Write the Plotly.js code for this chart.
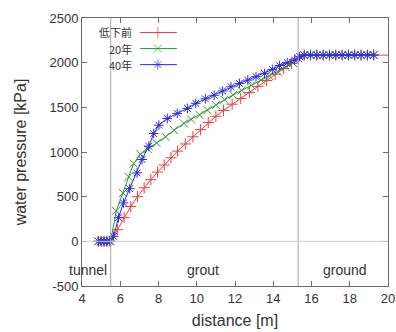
<!DOCTYPE html>
<html>
<head>
<meta charset="utf-8">
<script src="https://cdn.plot.ly/plotly-3.0.1.min.js"></script>
<style>html,body{margin:0;padding:0;background:#fff;}#chart{width:396px;height:332px;}</style>
</head>
<body>
<div id="chart"></div>
<script>
// ---- data ----
const seriesNames = ["低下前", "20年", "40年"];

const redX = [4.85, 5.0, 5.15, 5.3, 5.5, 5.85, 6.2, 6.55, 6.9, 7.25, 7.6, 7.95, 8.3, 8.65, 9.0, 9.4, 9.8, 10.2, 10.6, 11.0, 11.4, 11.85, 12.3, 12.75, 13.2, 13.65, 14.1, 14.55, 14.95, 15.3,
              15.62, 15.95, 16.28, 16.61, 16.94, 17.27, 17.6, 17.93, 18.26, 18.59, 18.92, 19.25, 20.5];
const redY = [0, 0, 0, 0, 0, 130, 265, 390, 500, 600, 690, 775, 855, 935, 1010, 1090, 1170, 1250, 1330, 1400, 1465, 1535, 1600, 1665, 1735, 1800, 1870, 1935, 1990, 2045,
              2085, 2085, 2085, 2085, 2085, 2085, 2085, 2085, 2085, 2085, 2085, 2085, 2085];

const greenX = [4.85, 5.0, 5.15, 5.3, 5.5, 5.79, 6.14, 6.44, 6.7, 7.05, 7.45, 7.9, 8.37, 8.81, 9.33, 9.7, 10.15, 10.56, 11.0, 11.45, 11.9, 12.35, 12.85, 13.37, 13.8, 14.25, 14.65, 15.04, 15.3,
                15.62, 15.95, 16.28, 16.61, 16.94, 17.27, 17.6, 17.93, 18.26, 18.59, 18.92, 19.25];
const greenY = [0, 0, 0, 0, 0, 340, 541, 721, 871, 975, 1030, 1100, 1170, 1244, 1320, 1365, 1415, 1469, 1525, 1585, 1640, 1690, 1745, 1805, 1850, 1898, 1950, 1995, 2050,
                2085, 2085, 2085, 2085, 2085, 2085, 2085, 2085, 2085, 2085, 2085, 2085];

const blueX = [4.85, 5.0, 5.15, 5.3, 5.45, 5.65, 5.91, 6.17, 6.49, 6.88, 7.14, 7.49, 7.75, 8.02, 8.46, 8.98, 9.51, 9.95, 10.45, 10.91, 11.35, 11.79, 12.23, 12.67, 13.1, 13.54, 13.95, 14.33, 14.73, 15.12, 15.38,
               15.62, 15.95, 16.28, 16.61, 16.94, 17.27, 17.6, 17.93, 18.26, 18.59, 18.92, 19.25];
const blueY = [0, 0, 0, 0, 0, 56, 265, 430, 590, 766, 916, 1065, 1207, 1300, 1375, 1432, 1488, 1545, 1595, 1635, 1683, 1730, 1768, 1805, 1843, 1880, 1925, 1968, 2000, 2030, 2067,
               2085, 2085, 2085, 2085, 2085, 2085, 2085, 2085, 2085, 2085, 2085, 2085];

const xTicks = [4, 6, 8, 10, 12, 14, 16, 18, 20];
const yTicks = [-500, 0, 500, 1000, 1500, 2000, 2500];
const boundaries = [5.5, 15.3];
const regionLabels = ["tunnel", "grout", "ground"];
const regionLabelX = [4.31, 10.33, 17.74];
const regionLabelY = -325;

// ---- styles ----
const colors = ["#f03c3c", "#2e9a2e", "#2a2ae6"];
const symbols = ["cross-thin", "x-thin", "asterisk"];
const sizes = [8, 8, 8];
const fontFam = "Liberation Sans, Arial, sans-serif";
const textCol = "#333";

function mk(i, x, y) {
  return {
    x: x, y: y, type: "scatter", mode: "lines+markers", name: seriesNames[i],
    line: {color: colors[i], width: 1},
    marker: {symbol: symbols[i], size: sizes[i], color: colors[i], line: {color: colors[i], width: 1}},
    showlegend: false, hoverinfo: "skip"
  };
}

const traces = [mk(0, redX, redY), mk(1, greenX, greenY), mk(2, blueX, blueY)];

// custom gnuplot-style legend (text left of sample)
const legY = [0.946, 0.886, 0.826];
const legendAnn = [];
for (let i = 0; i < 3; i++) {
  traces.push({
    x: [0.19, 0.248, 0.31], y: [legY[i], legY[i], legY[i]], xaxis: "x2", yaxis: "y2",
    type: "scatter", mode: "lines+markers", showlegend: false, hoverinfo: "skip",
    line: {color: colors[i], width: 1},
    marker: {symbol: symbols[i], size: [0, sizes[i], 0], color: colors[i], line: {color: colors[i], width: 1}}
  });
  legendAnn.push({
    xref: "paper", yref: "paper", x: 0.167, y: legY[i], xanchor: "right", yanchor: "middle",
    text: seriesNames[i], showarrow: false, borderpad: 0,
    font: {family: "Noto Sans CJK JP, " + fontFam, size: 11, color: textCol}
  });
}

const shapes = boundaries.map(b => ({
  type: "line", xref: "x", yref: "paper", x0: b, x1: b, y0: 0, y1: 1,
  line: {color: "#a8a8a8", width: 1}
}));
shapes.push({type: "line", xref: "paper", yref: "y", x0: 0, x1: 1, y0: 0, y1: 0, line: {color: "#cccccc", width: 1}});

const regionAnn = regionLabels.map((t, i) => ({
  x: regionLabelX[i], y: regionLabelY, xref: "x", yref: "y", text: t, showarrow: false,
  font: {family: fontFam, size: 14, color: textCol}
}));

const axisCommon = {
  showgrid: false, zeroline: false, showline: true, linecolor: "#6a6a6a", linewidth: 1,
  mirror: "ticks", ticks: "inside", ticklen: 5, tickcolor: "#6a6a6a",
  tickfont: {family: fontFam, size: 13, color: textCol}, automargin: false
};

const layout = {
  width: 396, height: 332,
  margin: {l: 82, r: 8, t: 18, b: 46},
  paper_bgcolor: "#fff", plot_bgcolor: "#fff",
  showlegend: false,
  xaxis: Object.assign({}, axisCommon, {
    range: [4, 20], tickvals: xTicks, ticktext: xTicks.map(String),
    title: {text: "distance [m]", font: {family: fontFam, size: 16, color: textCol}, standoff: 10}
  }),
  yaxis: Object.assign({}, axisCommon, {
    range: [-500, 2500], tickvals: yTicks, ticktext: yTicks.map(String),
    title: {text: "water pressure [kPa]", font: {family: fontFam, size: 16, color: textCol}, standoff: 18}
  }),
  xaxis2: {overlaying: "x", range: [0, 1], visible: false, fixedrange: true},
  yaxis2: {overlaying: "y", range: [0, 1], visible: false, fixedrange: true},
  shapes: shapes,
  annotations: regionAnn.concat(legendAnn)
};

Plotly.newPlot("chart", traces, layout, {staticPlot: true, displayModeBar: false});
</script>
</body>
</html>
